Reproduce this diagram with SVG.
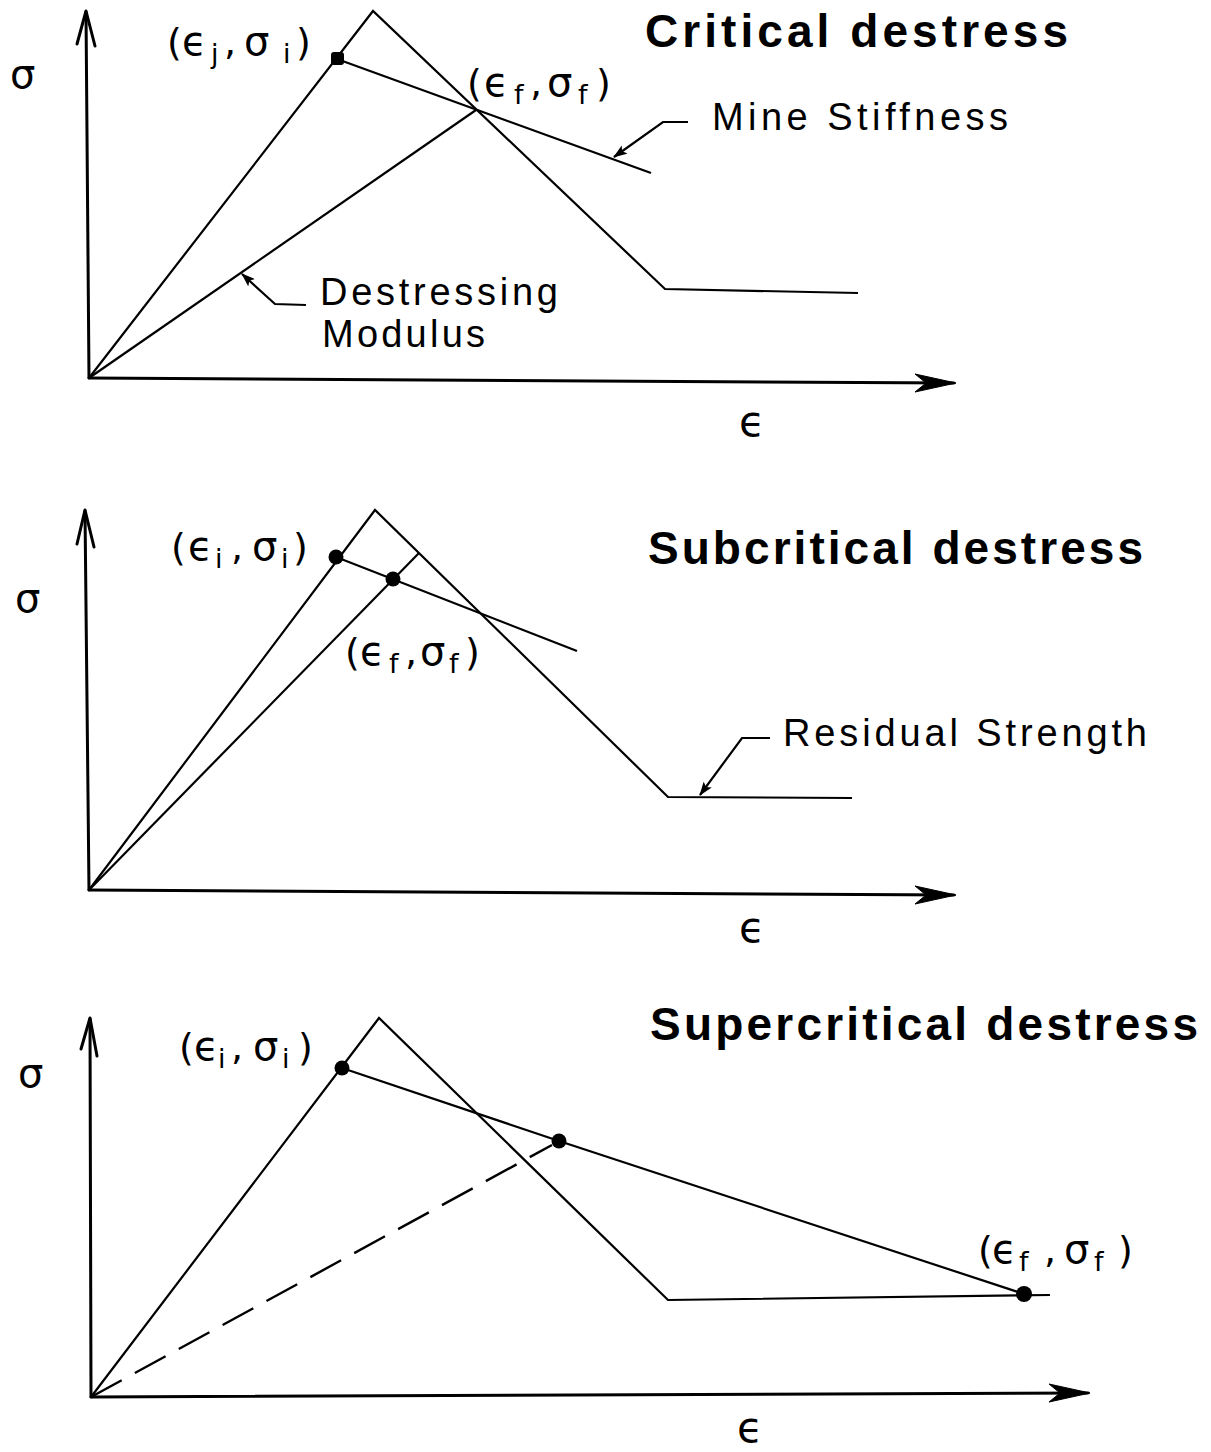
<svg xmlns="http://www.w3.org/2000/svg" width="1211" height="1452" viewBox="0 0 1211 1452">
<style>
.bg{fill:#fff}
.ax{fill:none;stroke:#000;stroke-width:3;stroke-linecap:round;stroke-linejoin:round}
.cv{fill:none;stroke:#000;stroke-width:2.2;stroke-linejoin:miter}
.dash{fill:none;stroke:#000;stroke-width:2.4;stroke-dasharray:35 15}
.ld{fill:none;stroke:#000;stroke-width:2.2;marker-end:url(#ah)}
.ah{fill:#000;stroke:#000;stroke-width:1}
.dot{fill:#000}
.title{font-family:"Liberation Sans",Arial,sans-serif;font-weight:bold;font-size:46px;fill:#000}
.note{font-family:"Liberation Sans",Arial,sans-serif;font-size:38px;fill:#000}
.sym{font-family:"DejaVu Sans","Noto Sans",sans-serif;fill:#000}
.lab{font-family:"DejaVu Sans","Noto Sans",sans-serif;font-size:38px;fill:#000}
.g{font-size:40px}
.sub{font-size:27px}
</style>
<defs>
<marker id="ah" viewBox="0 0 14 10" refX="13" refY="5" markerWidth="14" markerHeight="10" markerUnits="userSpaceOnUse" orient="auto">
<path d="M0,0 L14,5 L0,10 L3,5 Z" fill="#000"/>
</marker>
</defs>
<rect class="bg" x="0" y="0" width="1211" height="1452"/>

<g id="panel-critical">
  <g id="p1-axes">
    <path class="ax" d="M89,378 L86,12"/>
    <path class="ax" d="M77,44 L86,11 L95,46"/>
    <path class="ax" d="M89,378 L954,383"/>
    <path class="ah" d="M915,374 L956,383 L915,392 L926,383 Z"/>
  </g>
  <g id="p1-curves">
    <polyline class="cv" points="89,378 373,11 665,289 858,293"/>
    <line class="cv" x1="89" y1="378" x2="476" y2="110"/>
    <line class="cv" x1="337" y1="59" x2="651" y2="173"/>
    <rect class="dot" x="331" y="52" width="13" height="13" rx="3"/>
  </g>
  <g id="p1-labels">
    <text class="title" x="645" y="47" textLength="423" lengthAdjust="spacing">Critical destress</text>
    <text class="sym" x="10" y="88" font-size="40">σ</text>
    <text class="sym" x="739" y="436" font-size="42">ϵ</text>
    <text class="lab" y="55"><tspan x="167">(</tspan><tspan class="g" x="182">ϵ</tspan><tspan class="sub" x="211" dy="8">j</tspan><tspan x="224" dy="-8">,</tspan><tspan class="g" x="244">σ</tspan><tspan class="sub" x="283" dy="8">i</tspan><tspan x="296" dy="-8">)</tspan></text>
    <text class="lab" y="96"><tspan x="467">(</tspan><tspan class="g" x="484">ϵ</tspan><tspan class="sub" x="514" dy="8">f</tspan><tspan x="530" dy="-8">,</tspan><tspan class="g" x="547">σ</tspan><tspan class="sub" x="578" dy="8">f</tspan><tspan x="596" dy="-8">)</tspan></text>
    <text class="note" x="712" y="130" textLength="296" lengthAdjust="spacing">Mine Stiffness</text>
    <text class="note" x="320" y="305" textLength="238" lengthAdjust="spacing">Destressing</text>
    <text class="note" x="322" y="347" textLength="163" lengthAdjust="spacing">Modulus</text>
  </g>
</g>

<g id="panel-subcritical">
  <g id="p2-axes">
    <path class="ax" d="M89,890 L85,511"/>
    <path class="ax" d="M77,544 L85,510 L94,547"/>
    <path class="ax" d="M89,890 L954,895"/>
    <path class="ah" d="M915,886 L956,895 L915,904 L926,895 Z"/>
  </g>
  <g id="p2-curves">
    <polyline class="cv" points="89,890 375,510 668,797 852,798"/>
    <line class="cv" x1="89" y1="890" x2="419" y2="553"/>
    <line class="cv" x1="336" y1="557" x2="577" y2="651"/>
    <circle class="dot" cx="336" cy="557" r="7.5"/>
    <circle class="dot" cx="393" cy="579" r="7.5"/>
  </g>
  <g id="p2-labels">
    <text class="title" x="648" y="564" textLength="495" lengthAdjust="spacing">Subcritical destress</text>
    <text class="sym" x="15" y="612" font-size="40">σ</text>
    <text class="sym" x="739" y="942" font-size="42">ϵ</text>
    <text class="lab" y="560"><tspan x="171">(</tspan><tspan class="g" x="188">ϵ</tspan><tspan class="sub" x="215" dy="8">i</tspan><tspan x="231" dy="-8">,</tspan><tspan class="g" x="252">σ</tspan><tspan class="sub" x="281" dy="8">i</tspan><tspan x="293" dy="-8">)</tspan></text>
    <text class="lab" y="665"><tspan x="345">(</tspan><tspan class="g" x="360">ϵ</tspan><tspan class="sub" x="389" dy="8">f</tspan><tspan x="405" dy="-8">,</tspan><tspan class="g" x="420">σ</tspan><tspan class="sub" x="449" dy="8">f</tspan><tspan x="465" dy="-8">)</tspan></text>
    <text class="note" x="783" y="746" textLength="364" lengthAdjust="spacing">Residual Strength</text>
  </g>
</g>

<g id="panel-supercritical">
  <g id="p3-axes">
    <path class="ax" d="M91,1397 L90,1019"/>
    <path class="ax" d="M81,1049 L90,1018 L97,1056"/>
    <path class="ax" d="M91,1397 L1088,1393"/>
    <path class="ah" d="M1049,1384 L1090,1393 L1049,1402 L1060,1393 Z"/>
  </g>
  <g id="p3-curves">
    <polyline class="cv" points="91,1397 379,1018 668,1300 1050,1295"/>
    <line class="dash" x1="91" y1="1397" x2="552" y2="1145"/>
    <polyline class="cv" points="342,1068 559,1141 1024,1294"/>
    <circle class="dot" cx="342" cy="1068" r="7.5"/>
    <circle class="dot" cx="559" cy="1141" r="7.5"/>
    <circle class="dot" cx="1024" cy="1294" r="8"/>
  </g>
  <g id="p3-labels">
    <text class="title" x="650" y="1040" textLength="548" lengthAdjust="spacing">Supercritical destress</text>
    <text class="sym" x="18" y="1087" font-size="40">σ</text>
    <text class="sym" x="737" y="1442" font-size="42">ϵ</text>
    <text class="lab" y="1060"><tspan x="179">(</tspan><tspan class="g" x="194">ϵ</tspan><tspan class="sub" x="218" dy="8">i</tspan><tspan x="231" dy="-8">,</tspan><tspan class="g" x="253">σ</tspan><tspan class="sub" x="282" dy="8">i</tspan><tspan x="298" dy="-8">)</tspan></text>
    <text class="lab" y="1263"><tspan x="978">(</tspan><tspan class="g" x="992">ϵ</tspan><tspan class="sub" x="1019" dy="8">f</tspan><tspan x="1044" dy="-8">,</tspan><tspan class="g" x="1064">σ</tspan><tspan class="sub" x="1094" dy="8">f</tspan><tspan x="1118" dy="-8">)</tspan></text>
  </g>
</g>

<g id="connectors">
  <path id="leader-mine-stiffness" class="ld" d="M688,122 L663,122 L614,157"/>
  <path id="leader-destressing-modulus" class="ld" d="M306,305 L275,304 L242,274"/>
  <path id="leader-residual-strength" class="ld" d="M770,738 L742,738 L700,795"/>
</g>
</svg>
